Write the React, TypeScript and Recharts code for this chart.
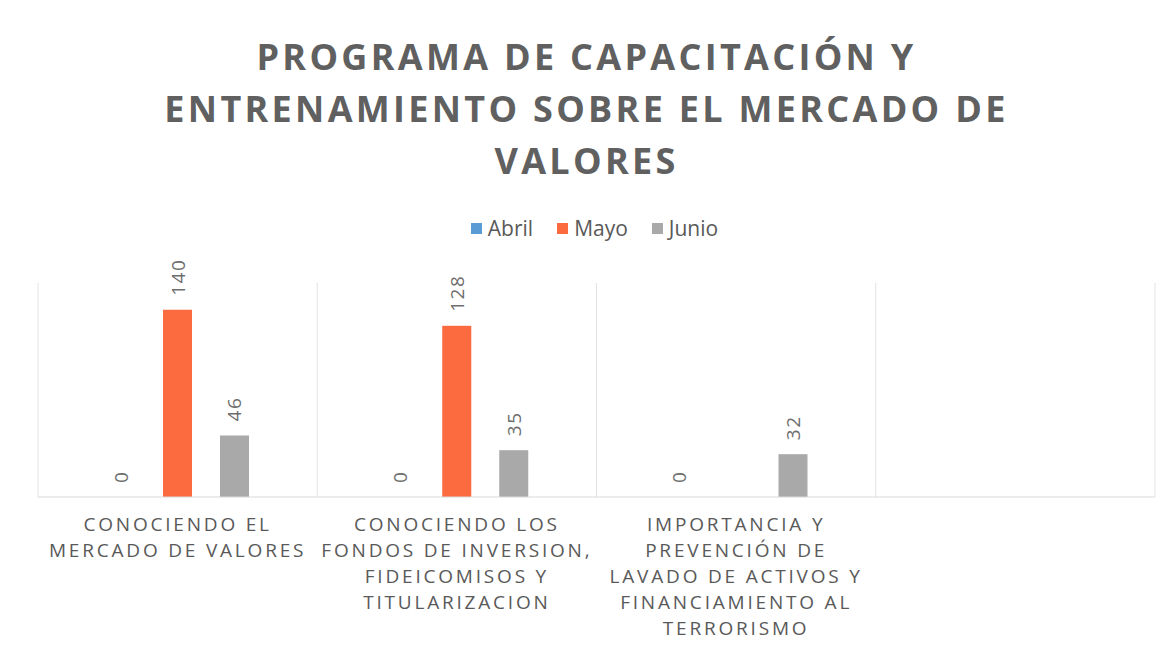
import { Bar, BarChart, CartesianGrid, Legend, XAxis, YAxis } from "recharts";

const categories = [
  "CONOCIENDO EL\nMERCADO DE VALORES",
  "CONOCIENDO LOS\nFONDOS DE INVERSION,\nFIDEICOMISOS Y\nTITULARIZACION",
  "IMPORTANCIA Y\nPREVENCIÓN DE\nLAVADO DE ACTIVOS Y\nFINANCIAMIENTO AL\nTERRORISMO",
  "",
];
const abril = [0, 0, 0, null];
const mayo = [140, 128, null, null];
const junio = [46, 35, 32, null];

const titleLines = ["PROGRAMA DE CAPACITACIÓN Y", "ENTRENAMIENTO SOBRE EL MERCADO DE", "VALORES"];

const series = [
  { key: "abril", name: "Abril", color: "#5b9bd5" },
  { key: "mayo", name: "Mayo", color: "#fc6a3f" },
  { key: "junio", name: "Junio", color: "#a9a9a9" },
];

const data = categories.map((c, i) => ({ cat: c, abril: abril[i], mayo: mayo[i], junio: junio[i] }));

const FONT = "'Open Sans', sans-serif";
const TEXT = "#595959";

function CategoryTick({ x, y, payload }: any) {
  const lines = String(payload.value).split("\n");
  return (
    <text x={x} y={y} textAnchor="middle" fill={TEXT} fontFamily={FONT} fontSize={19} letterSpacing={2.8}>
      {lines.map((l, i) => (
        <tspan key={i} x={x} dy={26}>
          {l}
        </tspan>
      ))}
    </text>
  );
}

// draws the bar and its rotated value label (zero values still get a label)
function BarWithLabel(props: any) {
  const { x, y, width, height, fill, payload, k } = props;
  const value = payload ? payload[k] : null;
  if (value === null || value === undefined) return null;
  const cx = x + width / 2;
  const cy = y - 14;
  return (
    <g>
      {height > 0 && <rect x={x} y={y} width={width} height={height} fill={fill} />}
      <text
        x={cx}
        y={cy}
        transform={`rotate(-90 ${cx} ${cy})`}
        textAnchor="start"
        dominantBaseline="central"
        fill="#6e6e6e"
        fontFamily={FONT}
        fontSize={19}
        letterSpacing={1.5}
      >
        {value}
      </text>
    </g>
  );
}

function LegendContent() {
  return (
    <div style={{ display: "flex", justifyContent: "center", gap: 24, fontFamily: FONT, fontSize: 21, color: TEXT }}>
      {series.map((s) => (
        <span key={s.key} style={{ display: "flex", alignItems: "center", gap: 6 }}>
          <span style={{ width: 11, height: 11, background: s.color, display: "inline-block" }} />
          {s.name}
        </span>
      ))}
    </div>
  );
}

export default function App() {
  return (
    <div style={{ position: "relative", width: 1157, height: 642, background: "#fff" }}>
      <div
        style={{
          position: "absolute",
          top: 23,
          left: 0,
          width: 1157,
          textAlign: "center",
          fontFamily: FONT,
          fontWeight: 700,
          fontSize: 36,
          lineHeight: "52px",
          letterSpacing: 3.3,
          color: "#606060",
        }}
      >
        {titleLines.map((t) => (
          <div key={t}>{t}</div>
        ))}
      </div>
      <BarChart
        width={1157}
        height={642}
        data={data}
        margin={{ top: 275, right: 10, left: 30, bottom: 13 }}
        barCategoryGap={68}
        barGap={28}
      >
        <CartesianGrid
          horizontal={false}
          stroke="#e3e3e3"
          verticalCoordinatesGenerator={({ offset }: any) =>
            categories.map((_, i) => offset.left + (i * offset.width) / categories.length).concat(offset.left + offset.width)
          }
        />
        <XAxis
          dataKey="cat"
          interval={0}
          height={140}
          tickLine={false}
          axisLine={{ stroke: "#d9d9d9" }}
          tick={<CategoryTick />}
        />
        <YAxis hide domain={[0, 160]} />
        <Legend
          layout="horizontal"
          verticalAlign="middle"
          align="center"
          wrapperStyle={{ top: 206, left: 8, width: 1157 }}
          content={<LegendContent />}
        />
        {series.map((s) => (
          <Bar
            key={s.key}
            dataKey={s.key}
            name={s.name}
            fill={s.color}
            isAnimationActive={false}
            shape={(p: any) => <BarWithLabel {...p} k={s.key} />}
          />
        ))}
      </BarChart>
    </div>
  );
}
